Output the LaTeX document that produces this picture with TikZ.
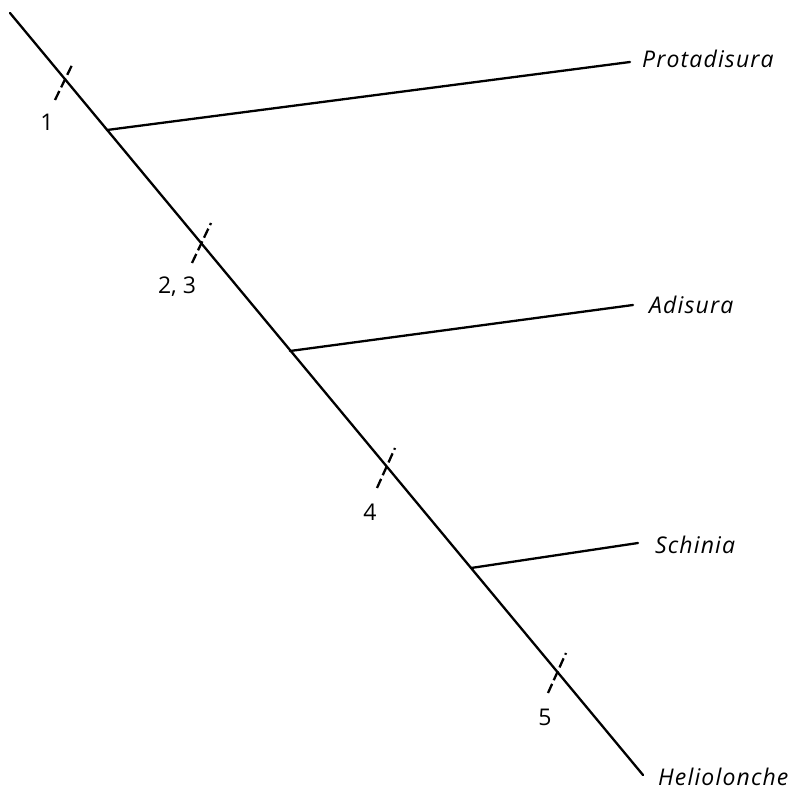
\documentclass[tikz,border=0pt]{standalone}
\usepackage{fontspec}
\setmainfont{Open Sans}
\newfontfamily\taxonfont[LetterSpace=5.0]{Open Sans}
\begin{document}
\begin{tikzpicture}[x=1pt,y=-1pt,
  stem/.style={line width=2.3pt, line cap=round},
  tick/.style={line width=2.3pt, dash pattern=on 10pt off 4pt},
  taxon/.style={anchor=base west, inner sep=0pt, font=\taxonfont\fontsize{23}{23}\selectfont\itshape},
  num/.style={inner sep=0pt, font=\fontsize{23}{23}\selectfont}]
\useasboundingbox (0,0) rectangle (806,791);
% main line
\coordinate (root) at (10,13);
\coordinate (tip) at (643,775);
\coordinate (j1) at (107,130);
\coordinate (j2) at (290,351);
\coordinate (j3) at (471,568);
\draw[stem] (root) -- (tip);
% branches
\coordinate (e1) at (630,62);
\coordinate (e2) at (633,305);
\coordinate (e3) at (638,543);
\draw[stem] (j1) -- (e1);
\draw[stem] (j2) -- (e2);
\draw[stem] (j3) -- (e3);
% taxa
\node[taxon] (prot) at (642,68) {Protadisura};
\node[taxon] (adis) at (649,314) {Adisura};
\node[taxon] (schi) at (655,553) {Schinia};
\node[taxon] (heli) at (658,785) {Heliolonche};
% character ticks
\coordinate (t1a) at (55,100); \coordinate (t1b) at (73,63);
\coordinate (t2a) at (192,263); \coordinate (t2b) at (211,223);
\coordinate (t3a) at (377,488); \coordinate (t3b) at (395,448);
\coordinate (t4a) at (548,693); \coordinate (t4b) at (566,653);
\draw[tick] (t1a) -- (t1b);
\draw[tick] (t2a) -- (t2b);
\draw[tick] (t3a) -- (t3b);
\draw[tick] (t4a) -- (t4b);
\node[num] (n1) at (47,122) {1};
\node[num] (n23) at (177,287) {2, 3};
\node[num] (n4) at (370,512) {4};
\node[num] (n5) at (545,717) {5};
\end{tikzpicture}
\end{document}
